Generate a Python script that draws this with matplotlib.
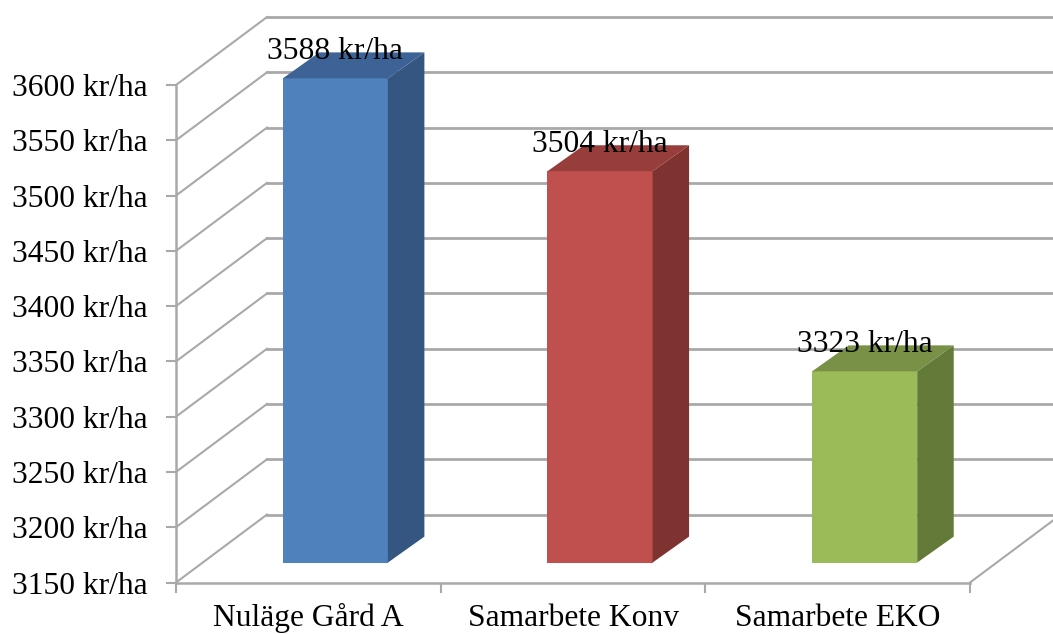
#!/usr/bin/env python3
"""Income per hectare for three farm scenarios, as an oblique 3D-style column chart."""

import matplotlib

matplotlib.use("Agg")
import matplotlib.pyplot as plt
from matplotlib.patches import Polygon

categories = ["Nuläge Gård A", "Samarbete Konv", "Samarbete EKO"]
values = [3588, 3504, 3323]
y_ticks = [3150, 3200, 3250, 3300, 3350, 3400, 3450, 3500, 3550, 3600]

front_colors = ["#4f81bd", "#c0504d", "#9bbb59"]
top_colors = ["#3d6396", "#973d3b", "#789146"]
side_colors = ["#345680", "#7e3331", "#637a39"]

GRID = "#a9a9a9"
Y_MIN, Y_MAX = 3150, 3600

# oblique offsets, x in category units and y in kr/ha
WALL_DX, WALL_DY = 0.344, 61.5
BAR_DX, BAR_DY = 0.102, 18.0
SIDE_DX, SIDE_DY = 0.138, 23.5
BAR_WIDTH = 0.397

plt.rcParams["font.family"] = ["Liberation Serif", "DejaVu Serif"]

W, H = 1053, 634
fig = plt.figure(figsize=(W / 100, H / 100), dpi=100)
ax = fig.add_axes([176 / W, (H - 582.5) / H, (970 - 176) / W, 497.5 / H])
ax.set_xlim(0, 3)
ax.set_ylim(Y_MIN, Y_MAX)

# walls: diagonal up from the axis, then along the back
for tick in y_ticks:
    ax.plot([0, WALL_DX], [tick, tick + WALL_DY], color=GRID, lw=1.5,
            clip_on=False, zorder=1)
    ax.plot([WALL_DX, 3 + WALL_DX], [tick + WALL_DY, tick + WALL_DY],
            color=GRID, lw=2.0, clip_on=False, zorder=1)
ax.plot([3, 3 + WALL_DX], [Y_MIN, Y_MIN + WALL_DY], color=GRID, lw=1.5,
        clip_on=False, zorder=1)

# columns
for i, val in enumerate(values):
    left = i + 0.5 + BAR_DX - BAR_WIDTH / 2
    right = left + BAR_WIDTH
    low = Y_MIN + BAR_DY
    high = val + BAR_DY
    ax.bar(left, high - low, width=BAR_WIDTH, bottom=low, align="edge",
           color=front_colors[i], clip_on=False, zorder=3)
    ax.add_patch(Polygon(
        [(right, low), (right + SIDE_DX, low + SIDE_DY),
         (right + SIDE_DX, high + SIDE_DY), (right, high)],
        facecolor=side_colors[i], edgecolor="none", clip_on=False, zorder=3))
    ax.add_patch(Polygon(
        [(left, high), (left + SIDE_DX, high + SIDE_DY),
         (right + SIDE_DX, high + SIDE_DY), (right, high)],
        facecolor=top_colors[i], edgecolor="none", clip_on=False, zorder=3))
    ax.annotate(f"{val} kr/ha", xy=(left + BAR_WIDTH / 2, high),
                xytext=(0, 14), textcoords="offset points", ha="center",
                va="baseline", fontsize=22.7, color="black", zorder=5,
                annotation_clip=False)

ax.set_yticks(y_ticks)
ax.set_yticklabels([f"{t} kr/ha" for t in y_ticks], fontsize=22.7)
ax.set_xticks([0, 1, 2, 3])
ax.set_xticklabels([])
# baseline sits high enough that the descenders stay on the canvas
for i, name in enumerate(categories):
    ax.annotate(name, xy=(i + 0.5, Y_MIN), xytext=(0, -31),
                textcoords="offset points", ha="center", va="baseline",
                fontsize=22.7, annotation_clip=False)

ax.tick_params(axis="both", length=7.2, width=1.5, color=GRID)
ax.tick_params(axis="y", pad=13)
for name in ["top", "right"]:
    ax.spines[name].set_visible(False)
for name in ["left", "bottom"]:
    ax.spines[name].set_color(GRID)
    ax.spines[name].set_linewidth(1.8)
ax.patch.set_alpha(0)

fig.savefig("out.png", dpi=100)
